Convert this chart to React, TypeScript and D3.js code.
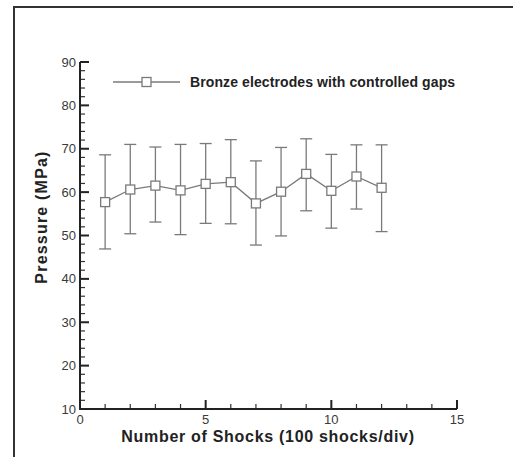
import React, { useRef, useEffect } from 'react';
import * as d3 from 'd3';

// data
const shocks = [1, 2, 3, 4, 5, 6, 7, 8, 9, 10, 11, 12];
const pressure = [57.7, 60.6, 61.5, 60.4, 61.9, 62.3, 57.4, 60.1, 64.2, 60.3, 63.6, 61.0];
const errHigh = [68.6, 71.0, 70.4, 71.0, 71.2, 72.1, 67.2, 70.3, 72.3, 68.7, 70.9, 70.9];
const errLow = [46.9, 50.4, 53.1, 50.2, 52.8, 52.7, 47.8, 49.9, 55.7, 51.7, 56.1, 50.9];
const xTicks = [0, 5, 10, 15];
const yTicks = [10, 20, 30, 40, 50, 60, 70, 80, 90];
const seriesName = 'Bronze electrodes with controlled gaps';

function App() {
  const ref = useRef<SVGSVGElement>(null);

  useEffect(() => {
    const svg = d3.select(ref.current);
    svg.selectAll('*').remove();

    const x = d3.scaleLinear().domain([0, 15]).range([80, 457]);
    const y = d3.scaleLinear().domain([10, 90]).range([409, 62]);
    const grey = '#7a7a7a';
    const font = 'Liberation Sans, Arial, sans-serif';

    // outer frame
    svg.append('path')
      .attr('d', 'M14,520 L14,7 L520,7')
      .attr('fill', 'none')
      .attr('stroke', '#333')
      .attr('stroke-width', 2);

    // minor ticks (inward)
    const yMinor = d3.range(10, 90.1, 2).filter(v => v % 10 !== 0);
    svg.selectAll('.ymin').data(yMinor).enter().append('line')
      .attr('x1', x(0)).attr('x2', x(0) + 5)
      .attr('y1', d => y(d)).attr('y2', d => y(d))
      .attr('stroke', '#333').attr('stroke-width', 1.2);
    const xMinor = d3.range(0, 15.1, 1).filter(v => v % 5 !== 0);
    svg.selectAll('.xmin').data(xMinor).enter().append('line')
      .attr('x1', d => x(d)).attr('x2', d => x(d))
      .attr('y1', y(10)).attr('y2', y(10) - 5)
      .attr('stroke', '#333').attr('stroke-width', 1.2);

    // major ticks
    svg.selectAll('.ymaj').data(yTicks).enter().append('line')
      .attr('x1', x(0)).attr('x2', x(0) + 9)
      .attr('y1', d => y(d)).attr('y2', d => y(d))
      .attr('stroke', '#222').attr('stroke-width', 2);
    svg.selectAll('.xmaj').data(xTicks).enter().append('line')
      .attr('x1', d => x(d)).attr('x2', d => x(d))
      .attr('y1', y(10)).attr('y2', y(10) - 9)
      .attr('stroke', '#222').attr('stroke-width', 2);

    // axis lines
    svg.append('line')
      .attr('x1', x(0)).attr('x2', x(0)).attr('y1', y(10) + 1).attr('y2', y(90))
      .attr('stroke', '#222').attr('stroke-width', 2);
    svg.append('line')
      .attr('x1', x(0) - 1).attr('x2', x(15)).attr('y1', y(10)).attr('y2', y(10))
      .attr('stroke', '#222').attr('stroke-width', 2);

    // tick labels
    svg.selectAll('.ylab').data(yTicks).enter().append('text')
      .attr('x', x(0) - 4).attr('y', d => y(d) + 4.5)
      .attr('text-anchor', 'end')
      .attr('font-family', font)
      .attr('font-size', 13).attr('fill', '#3a3a3a')
      .text(d => d);
    svg.selectAll('.xlab').data(xTicks).enter().append('text')
      .attr('x', d => x(d)).attr('y', y(10) + 15)
      .attr('text-anchor', 'middle')
      .attr('font-family', font)
      .attr('font-size', 13).attr('fill', '#3a3a3a')
      .text(d => d);

    // axis titles
    svg.append('text')
      .attr('x', 268).attr('y', 442)
      .attr('text-anchor', 'middle')
      .attr('font-family', font)
      .attr('font-weight', 'bold').attr('font-size', 16).attr('letter-spacing', 0.7)
      .attr('fill', '#222')
      .text('Number of Shocks (100 shocks/div)');
    svg.append('text')
      .attr('transform', 'translate(47,217) rotate(-90)')
      .attr('text-anchor', 'middle')
      .attr('font-family', font)
      .attr('font-weight', 'bold').attr('font-size', 16).attr('letter-spacing', 1.2)
      .attr('fill', '#222')
      .text('Pressure (MPa)');

    // error bars
    const eb = svg.selectAll('.eb').data(shocks).enter().append('g');
    eb.append('line')
      .attr('x1', d => x(d)).attr('x2', d => x(d))
      .attr('y1', (d, i) => y(errLow[i])).attr('y2', (d, i) => y(errHigh[i]))
      .attr('stroke', grey).attr('stroke-width', 1.3);
    eb.append('line')
      .attr('x1', d => x(d) - 6).attr('x2', d => x(d) + 6)
      .attr('y1', (d, i) => y(errHigh[i])).attr('y2', (d, i) => y(errHigh[i]))
      .attr('stroke', grey).attr('stroke-width', 1.3);
    eb.append('line')
      .attr('x1', d => x(d) - 6).attr('x2', d => x(d) + 6)
      .attr('y1', (d, i) => y(errLow[i])).attr('y2', (d, i) => y(errLow[i]))
      .attr('stroke', grey).attr('stroke-width', 1.3);

    // line
    const line = d3.line<number>().x(d => x(d)).y((d, i) => y(pressure[i]));
    svg.append('path')
      .attr('d', line(shocks))
      .attr('fill', 'none').attr('stroke', grey).attr('stroke-width', 1.3);

    // markers
    svg.selectAll('.mk').data(shocks).enter().append('rect')
      .attr('x', d => x(d) - 4.5).attr('y', (d, i) => y(pressure[i]) - 4.5)
      .attr('width', 9).attr('height', 9)
      .attr('fill', 'white').attr('stroke', grey).attr('stroke-width', 1.3);

    // legend
    svg.append('line')
      .attr('x1', 113).attr('x2', 180).attr('y1', 82).attr('y2', 82)
      .attr('stroke', grey).attr('stroke-width', 1.3);
    svg.append('rect')
      .attr('x', 142).attr('y', 77.5).attr('width', 9).attr('height', 9)
      .attr('fill', 'white').attr('stroke', grey).attr('stroke-width', 1.3);
    svg.append('text')
      .attr('x', 190).attr('y', 87)
      .attr('font-family', font)
      .attr('font-weight', 'bold').attr('font-size', 14).attr('letter-spacing', 0.1)
      .attr('fill', '#222')
      .text(seriesName);
  }, []);

  return (
    <svg ref={ref} width={513} height={457}
      style={{ position: 'absolute', left: 0, top: 0, background: 'white' }} />
  );
}

export default App;
